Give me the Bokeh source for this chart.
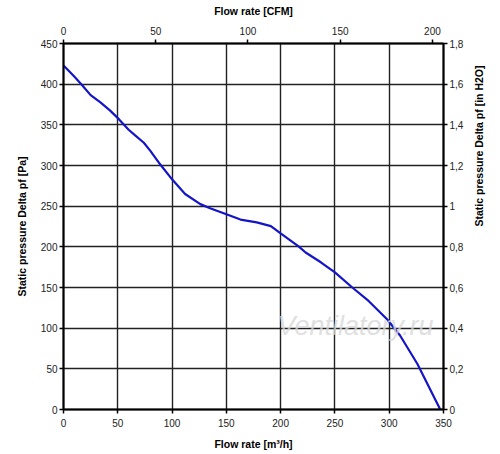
import math
from bokeh.plotting import figure
from bokeh.models import Range1d, LinearAxis, FixedTicker, Label
from bokeh.embed import file_html
from bokeh.resources import INLINE

# --- data ---
flow_m3h = [0, 9.5, 17, 25, 34, 43, 51, 60, 66, 74, 80, 89, 100, 112, 126, 135, 150,
            163, 178, 191, 200, 216.5, 223, 237, 250, 266, 281, 298, 310, 326, 347]
pressure_pa = [423, 410, 399, 386.5, 377.5, 367.5, 357, 344, 337, 328, 318, 301.5,
               283, 265, 252.5, 247.5, 240, 233.5, 230, 225.5, 216.5, 200.5, 193,
               181, 168.5, 150, 133.5, 111, 91, 56, 0]

x_ticks_m3h = [0, 50, 100, 150, 200, 250, 300, 350]
y_ticks_pa = [0, 50, 100, 150, 200, 250, 300, 350, 400, 450]
cfm_ticks = [0, 50, 100, 150, 200]
inh2o_ticks = [0, 0.2, 0.4, 0.6, 0.8, 1.0, 1.2, 1.4, 1.6, 1.8]
inh2o_labels = ["0", "0,2", "0,4", "0,6", "0,8", "1", "1,2", "1,4", "1,6", "1,8"]

M3H_PER_CFM = 1.699

X_MAX = 350
Y_MAX = 450

FONT = "Liberation Sans"

p = figure(width=500, height=454, output_backend="svg", toolbar_location=None,
           x_range=Range1d(0, X_MAX), y_range=Range1d(0, Y_MAX),
           min_border_left=63, min_border_right=57,
           min_border_top=43, min_border_bottom=45,
           background_fill_color="white", border_fill_color="white")
p.outline_line_color = "black"
p.outline_line_width = 1.5

p.extra_x_ranges = {"cfm": Range1d(0, X_MAX / M3H_PER_CFM)}
p.extra_y_ranges = {"inh2o": Range1d(0, 1.8)}

bottom_axis = p.below[0]
left_axis = p.left[0]

top_axis = LinearAxis(x_range_name="cfm", axis_label="Flow rate [CFM]",
                      ticker=FixedTicker(ticks=cfm_ticks))
right_axis = LinearAxis(y_range_name="inh2o",
                        axis_label="Static pressure Delta pf [in H2O]",
                        ticker=FixedTicker(ticks=inh2o_ticks))
right_axis.major_label_overrides = {t: l for t, l in zip(inh2o_ticks, inh2o_labels)}
p.add_layout(top_axis, "above")
p.add_layout(right_axis, "right")

bottom_axis.ticker = FixedTicker(ticks=x_ticks_m3h)
left_axis.ticker = FixedTicker(ticks=y_ticks_pa)
bottom_axis.axis_label = "Flow rate [m\u00b3/h]"
left_axis.axis_label = "Static pressure Delta pf [Pa]"

for ax in [bottom_axis, left_axis, top_axis, right_axis]:
    ax.axis_line_width = 2
    ax.axis_line_color = "black"
    ax.major_tick_line_color = "black"
    ax.major_tick_line_width = 1.5
    ax.major_tick_out = 4
    ax.major_tick_in = 0
    ax.minor_tick_line_color = None
    ax.major_label_text_font = FONT
    ax.major_label_text_font_size = "10px"
    ax.major_label_text_color = "#222222"
    ax.major_label_standoff = 3
    ax.axis_label_text_font = FONT
    ax.axis_label_text_font_size = "10.5px"
    ax.axis_label_text_font_style = "bold"
    ax.axis_label_text_color = "black"

bottom_axis.major_label_standoff = 5
bottom_axis.axis_label_standoff = 8
top_axis.major_label_standoff = 5
top_axis.axis_label_standoff = 7
left_axis.major_label_standoff = 2
left_axis.axis_label_standoff = 10
right_axis.major_label_standoff = 2
right_axis.axis_label_standoff = 13
right_axis.axis_label_orientation = math.pi / 2

p.xgrid.grid_line_color = "#222222"
p.ygrid.grid_line_color = "#222222"
p.xgrid.grid_line_width = 1.4
p.ygrid.grid_line_width = 1.4

p.add_layout(Label(x=269, y=103, text="Ventilatory.ru", text_font=FONT,
                   text_font_size="27px", text_font_style="italic",
                   text_color="#d8d8d8", text_alpha=0.8,
                   text_align="center", text_baseline="middle"))

p.line(flow_m3h, pressure_pa, line_color="#1414c8", line_width=2.2)

open("out.html", "w").write(file_html(p, INLINE))
